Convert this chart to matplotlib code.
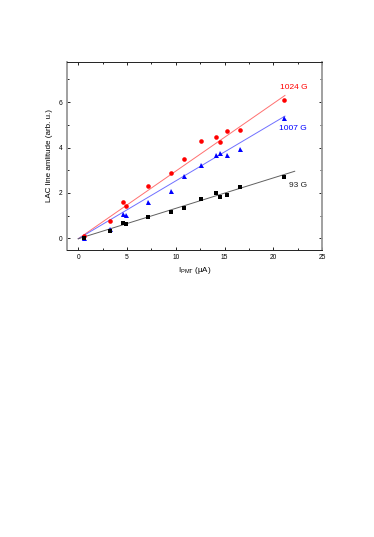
import numpy as np
import matplotlib
matplotlib.use('Agg')
import matplotlib.pyplot as plt
from matplotlib.ticker import MultipleLocator

plt.rcParams['font.family'] = ['Liberation Sans', 'DejaVu Sans']

# photomultiplier current (uA)
current = [0.62, 3.28, 4.6, 4.94, 7.18, 9.54, 10.81, 12.62, 14.16, 14.5, 15.25, 16.59, 21.14]
amp_1024 = [0.09, 0.75, 1.6, 1.44, 2.32, 2.88, 3.51, 4.30, 4.47, 4.25, 4.75, 4.78, 6.09]
amp_1007 = [0.03, 0.43, 1.09, 1.01, 1.61, 2.10, 2.76, 3.24, 3.67, 3.76, 3.68, 3.93, 5.31]
amp_93 = [0.01, 0.32, 0.67, 0.63, 0.95, 1.16, 1.32, 1.73, 1.98, 1.82, 1.91, 2.24, 2.68]

# linear fits (slope, intercept, x end)
fit_1024 = (0.298, -0.02, 21.2)
fit_1007 = (0.255, -0.02, 21.2)
fit_93 = (0.134, -0.02, 22.2)

fig = plt.figure(figsize=(3.74, 5.37), dpi=100)
ax = fig.add_axes([0.179, 0.5345, 0.682, 0.35])

for fit, col in [(fit_1024, '#ff7070'), (fit_1007, '#7070ff'), (fit_93, '#606060')]:
    xs = np.array([0, fit[2]])
    ax.plot(xs, fit[0]*xs + fit[1], color=col, lw=0.7)

ax.plot(current, amp_1024, 'o', color='#ff0000', ms=3.3, mew=0)
ax.plot(current, amp_1007, '^', color='#0000ff', ms=3.6, mew=0)
ax.plot(current, amp_93, 's', color='#000000', ms=3.0, mew=0)

ax.text(22.06, 6.66, '1024 G', color='#ff0000', fontsize=6.0, ha='center', va='center')
ax.text(22.06, 4.86, '1007 G', color='#0000ff', fontsize=6.0, ha='center', va='center')
ax.text(22.5, 2.33, '93 G', color='#222222', fontsize=6.0, ha='center', va='center')

ax.set_xlim(-1.16, 25.0)
ax.set_ylim(-0.515, 7.77)
ax.xaxis.set_major_locator(MultipleLocator(5))
ax.xaxis.set_minor_locator(MultipleLocator(2.5))
ax.yaxis.set_major_locator(MultipleLocator(2))
ax.yaxis.set_minor_locator(MultipleLocator(1))
ax.tick_params(which='both', direction='in', top=True, right=True, labelsize=4.8, width=0.6, pad=3)
ax.tick_params(which='major', length=2.5)
ax.tick_params(which='minor', length=1.5)
for side in ['top', 'bottom']:
    ax.spines[side].set_linewidth(0.7)
    ax.spines[side].set_color('#222222')
for side in ['left', 'right']:
    ax.spines[side].set_linewidth(1.3)
    ax.spines[side].set_color('#999999')

ax.set_xlabel(r'I$_{\mathregular{PMT}}$ ($\mathregular{\mu}$A)', fontsize=5.8, labelpad=3)
ax.set_ylabel('LAC line amlitude (arb. u.)', fontsize=5.8, labelpad=4)

fig.savefig('out.png', dpi=100)
